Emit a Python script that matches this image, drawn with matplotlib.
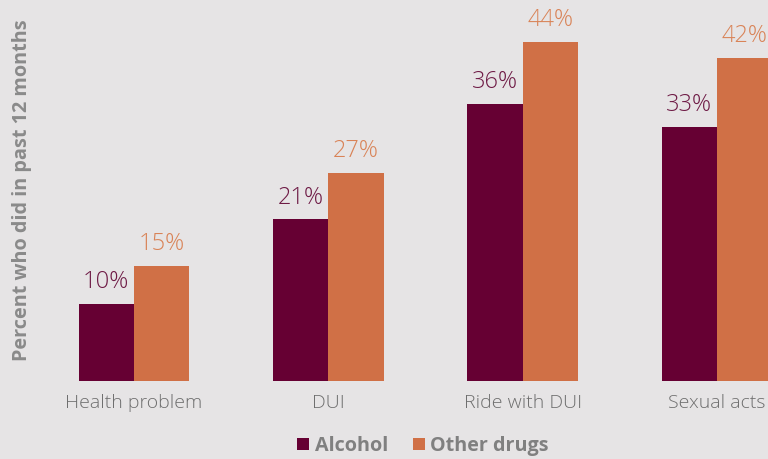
import matplotlib.pyplot as plt
import numpy as np

categories = ["Health problem", "DUI", "Ride with DUI", "Sexual acts"]
alcohol = [10, 21, 36, 33]
other_drugs = [15, 27, 44, 42]

bg = "#e6e4e5"
maroon = "#660033"
orange = "#d07046"

plt.rcParams['font.family'] = ['Open Sans', 'DejaVu Sans']

fig = plt.figure(figsize=(7.68, 4.59), dpi=100, facecolor=bg)
ax = fig.add_axes([0, 1 - 381 / 459, 1, 381 / 459])
ax.set_facecolor(bg)

x = np.arange(len(categories))
w = 0.285
b1 = ax.bar(x - w / 2, alcohol, w, color=maroon, label="Alcohol")
b2 = ax.bar(x + w / 2, other_drugs, w, color=orange, label="Other drugs")

for bars, vals, col in [(b1, alcohol, "#6e1a45"), (b2, other_drugs, "#d98357")]:
    for r, v in zip(bars, vals):
        ax.annotate(f"{v}%", (r.get_x() + r.get_width() / 2, v),
                    xytext=(0, 7), textcoords="offset points",
                    ha="center", va="bottom", fontsize=17, color=col,
                    fontweight="light")

ax.set_xlim(-134 / 194.3, (768 - 134) / 194.3)
ax.set_ylim(0, 381 / 7.7)
for s in ax.spines.values():
    s.set_visible(False)
ax.set_yticks([])
ax.set_xticks(x)
ax.set_xticklabels(categories, fontsize=14, color="#6e6e6e", fontweight="light")
ax.tick_params(axis="x", length=0, pad=9)

fig.text(22 / 768, 1 - 190 / 459, "Percent who did in past 12 months",
         rotation=90, ha="center", va="center", fontsize=14.3,
         fontweight="bold", color="#8a8a8a")

leg = fig.legend(handles=[b1, b2], loc="center", bbox_to_anchor=(423 / 768, 1 - 446 / 459),
                 ncol=2, frameon=False, fontsize=14.2, handlelength=0.6, handleheight=0.6,
                 handletextpad=0.3, columnspacing=1.25)
for t in leg.get_texts():
    t.set_color("#808080")
    t.set_fontweight("bold")

fig.savefig("out.png", dpi=100, facecolor=bg)
